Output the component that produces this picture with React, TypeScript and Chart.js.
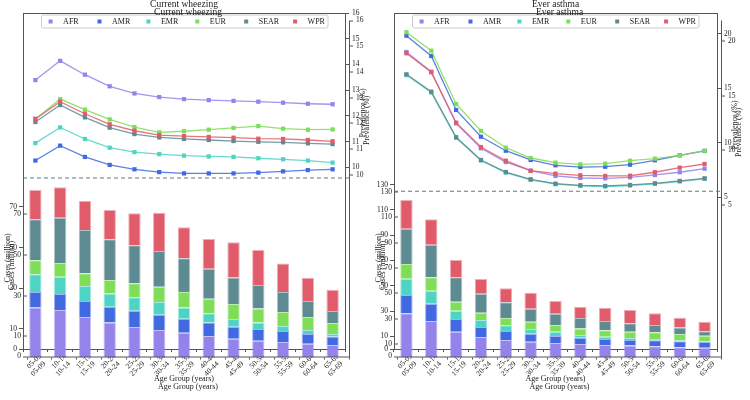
import React, { useEffect, useRef } from 'react';
import { Chart, registerables } from 'chart.js';

Chart.register(...registerables);

const FONT = "'Liberation Serif', 'Times New Roman', serif";
const TEXT = '#222222';
const AXIS = '#555555';
const GHOST_DX = 4;
const GHOST_DY = 7.5;

const AGE_GROUPS = ['05-09', '10-14', '15-19', '20-24', '25-29', '30-34', '35-39', '40-44', '45-49', '50-54', '55-59', '60-64', '65-69'];
const REGIONS = ['AFR', 'AMR', 'EMR', 'EUR', 'SEAR', 'WPR'];
const COLORS = ['#9483ea', '#4169e1', '#4fd3c4', '#7fdd58', '#5e8a91', '#e05c6b'];

// Current wheezing: prevalence (%)
const WHEEZE_PREV_AFR = [13.39, 14.14, 13.6, 13.15, 12.87, 12.73, 12.65, 12.61, 12.58, 12.55, 12.51, 12.47, 12.45];
const WHEEZE_PREV_AMR = [10.26, 10.84, 10.4, 10.09, 9.92, 9.81, 9.76, 9.76, 9.76, 9.79, 9.84, 9.89, 9.92];
const WHEEZE_PREV_EMR = [10.94, 11.55, 11.1, 10.76, 10.59, 10.51, 10.45, 10.42, 10.4, 10.35, 10.31, 10.26, 10.18];
const WHEEZE_PREV_EUR = [11.88, 12.65, 12.24, 11.86, 11.56, 11.36, 11.4, 11.46, 11.53, 11.6, 11.5, 11.46, 11.47];
const WHEEZE_PREV_SEAR = [11.76, 12.42, 11.94, 11.54, 11.29, 11.16, 11.1, 11.06, 11.02, 10.99, 10.97, 10.93, 10.9];
const WHEEZE_PREV_WPR = [11.88, 12.55, 12.08, 11.67, 11.42, 11.25, 11.21, 11.18, 11.15, 11.11, 11.1, 11.06, 11.01];

// Current wheezing: cases (million)
const WHEEZE_CASES_AFR = [20.4, 19.2, 15.8, 13.1, 10.8, 9.4, 8.0, 6.4, 5.1, 4.1, 3.4, 2.6, 2.0];
const WHEEZE_CASES_AMR = [7.7, 7.9, 7.9, 7.7, 8.1, 7.5, 6.9, 6.6, 5.9, 5.8, 5.5, 4.8, 4.1];
const WHEEZE_CASES_EMR = [8.7, 8.5, 7.3, 6.6, 6.6, 6.3, 5.5, 4.6, 3.8, 3.1, 2.4, 2.0, 1.3];
const WHEEZE_CASES_EUR = [6.9, 6.8, 6.3, 6.6, 6.9, 7.5, 7.7, 7.2, 7.4, 6.9, 6.9, 6.4, 5.4];
const WHEEZE_CASES_SEAR = [20.2, 22.3, 21.3, 20.1, 18.7, 17.6, 16.6, 14.8, 13.1, 11.6, 9.9, 7.9, 5.9];
const WHEEZE_CASES_WPR = [14.5, 15.0, 14.3, 14.4, 15.8, 18.9, 15.3, 14.6, 17.3, 17.3, 14.1, 11.4, 10.5];

// Ever asthma: prevalence (%)
const ASTHMA_PREV_AFR = [18.34, 16.53, 11.78, 9.48, 8.22, 7.42, 6.94, 6.75, 6.72, 6.81, 7.03, 7.28, 7.61];
const ASTHMA_PREV_AMR = [19.84, 17.98, 13.01, 10.55, 9.26, 8.41, 7.92, 7.76, 7.79, 7.98, 8.38, 8.84, 9.24];
const ASTHMA_PREV_EMR = [16.22, 14.62, 10.45, 8.36, 7.25, 6.58, 6.18, 6.03, 5.97, 6.06, 6.21, 6.43, 6.67];
const ASTHMA_PREV_EUR = [20.16, 18.46, 13.56, 11.08, 9.54, 8.59, 8.16, 8.01, 8.07, 8.34, 8.53, 8.84, 9.26];
const ASTHMA_PREV_SEAR = [16.29, 14.69, 10.5, 8.41, 7.3, 6.63, 6.23, 6.08, 6.02, 6.11, 6.26, 6.48, 6.72];
const ASTHMA_PREV_WPR = [18.22, 16.48, 11.84, 9.6, 8.34, 7.42, 7.15, 7.0, 6.94, 6.96, 7.28, 7.7, 8.04];

// Ever asthma: cases (million)
const ASTHMA_CASES_AFR = [28.2, 22.1, 13.7, 9.5, 7.1, 5.8, 4.7, 4.0, 3.2, 2.8, 2.2, 1.3, 1.0];
const ASTHMA_CASES_AMR = [14.5, 13.7, 10.0, 7.9, 7.1, 6.3, 5.6, 4.9, 4.7, 4.3, 4.7, 4.8, 4.5];
const ASTHMA_CASES_EMR = [12.8, 10.3, 6.6, 5.5, 4.5, 3.7, 3.4, 2.2, 1.8, 1.6, 1.0, 0.8, 0.6];
const ASTHMA_CASES_EUR = [11.6, 10.6, 7.1, 5.8, 5.8, 5.8, 5.3, 5.2, 5.1, 5.0, 5.3, 5.0, 4.4];
const ASTHMA_CASES_SEAR = [27.9, 25.8, 19.3, 15.0, 12.4, 10.3, 8.9, 8.2, 7.3, 6.6, 5.8, 5.0, 3.5];
const ASTHMA_CASES_WPR = [22.7, 20.0, 13.7, 11.6, 11.1, 12.6, 10.0, 8.9, 10.5, 10.5, 9.2, 7.8, 7.6];

// Axis ranges and tick labels
const WHEEZE_CASE_TICKS = [0, 10, 30, 50, 70];
const WHEEZE_PREV_TICKS = [10, 11, 12, 13, 14, 15, 16];
const ASTHMA_CASE_TICKS = [0, 10, 30, 50, 70, 90, 110, 130];
const ASTHMA_PREV_TICKS = [5, 10, 15, 20];

type PanelCfg = {
  title: string;
  prev: number[][];
  cases: number[][];
  caseMax: number;
  caseTicks: number[];
  afrBase: number;
  prevMin: number;
  prevMax: number;
  prevTicks: number[];
  split: number;
  left: number;
  width: number;
  rightAxisWidth: number;
  casesTitleY: number;
  prevTitleY: number;
};

const WHEEZE: PanelCfg = {
  title: 'Current wheezing',
  prev: [WHEEZE_PREV_AFR, WHEEZE_PREV_AMR, WHEEZE_PREV_EMR, WHEEZE_PREV_EUR, WHEEZE_PREV_SEAR, WHEEZE_PREV_WPR],
  cases: [WHEEZE_CASES_AFR, WHEEZE_CASES_AMR, WHEEZE_CASES_EMR, WHEEZE_CASES_EUR, WHEEZE_CASES_SEAR, WHEEZE_CASES_WPR],
  caseMax: 165.6,
  caseTicks: WHEEZE_CASE_TICKS,
  afrBase: -3.9,
  prevMin: 2.93,
  prevMax: 16,
  prevTicks: WHEEZE_PREV_TICKS,
  split: 9.58,
  left: 0,
  width: 371,
  rightAxisWidth: 26,
  casesTitleY: 258,
  prevTitleY: 113,
};

const ASTHMA: PanelCfg = {
  title: 'Ever asthma',
  prev: [ASTHMA_PREV_AFR, ASTHMA_PREV_AMR, ASTHMA_PREV_EMR, ASTHMA_PREV_EUR, ASTHMA_PREV_SEAR, ASTHMA_PREV_WPR],
  cases: [ASTHMA_CASES_AFR, ASTHMA_CASES_AMR, ASTHMA_CASES_EMR, ASTHMA_CASES_EUR, ASTHMA_CASES_SEAR, ASTHMA_CASES_WPR],
  caseMax: 265.6,
  caseTicks: ASTHMA_CASE_TICKS,
  afrBase: -6.3,
  prevMin: -8.98,
  prevMax: 21.93,
  prevTicks: ASTHMA_PREV_TICKS,
  split: 5.53,
  left: 371,
  width: 379,
  rightAxisWidth: 33,
  casesTitleY: 258,
  prevTitleY: 125,
};

function rgba(hex: string, a: number) {
  const n = parseInt(hex.slice(1), 16);
  return `rgba(${(n >> 16) & 255},${(n >> 8) & 255},${n & 255},${a})`;
}

function drawLegend(ctx: CanvasRenderingContext2D, ca: any) {
  const x0 = ca.left + 18.5;
  const x1 = ca.left + 305;
  const y0 = ca.top + 2;
  const y1 = ca.top + 15;
  ctx.save();
  ctx.beginPath();
  const r = 2;
  ctx.moveTo(x0 + r, y0);
  ctx.lineTo(x1 - r, y0);
  ctx.quadraticCurveTo(x1, y0, x1, y0 + r);
  ctx.lineTo(x1, y1 - r);
  ctx.quadraticCurveTo(x1, y1, x1 - r, y1);
  ctx.lineTo(x0 + r, y1);
  ctx.quadraticCurveTo(x0, y1, x0, y1 - r);
  ctx.lineTo(x0, y0 + r);
  ctx.quadraticCurveTo(x0, y0, x0 + r, y0);
  ctx.closePath();
  ctx.fillStyle = 'rgba(255,255,255,0.85)';
  ctx.fill();
  ctx.strokeStyle = '#cccccc';
  ctx.lineWidth = 1;
  ctx.stroke();
  ctx.font = `8px ${FONT}`;
  ctx.textBaseline = 'middle';
  ctx.textAlign = 'left';
  const my = (y0 + y1) / 2;
  REGIONS.forEach((name, i) => {
    const mx = ca.left + 27.6 + i * 48.9;
    ctx.fillStyle = COLORS[i];
    ctx.fillRect(mx - 2, my - 2, 4, 4);
    ctx.fillStyle = TEXT;
    ctx.fillText(name, mx + 12.5, my + 0.5);
  });
  ctx.restore();
}

function drawVText(ctx: CanvasRenderingContext2D, text: string, x: number, y: number) {
  ctx.save();
  ctx.translate(x, y);
  ctx.rotate(-Math.PI / 2);
  ctx.font = `8px ${FONT}`;
  ctx.fillStyle = TEXT;
  ctx.textAlign = 'center';
  ctx.textBaseline = 'middle';
  ctx.fillText(text, 0, 0);
  ctx.restore();
}

function makeDecor(cfg: PanelCfg) {
  return {
    id: 'decor',
    afterDatasetsDraw(chart: any) {
      const { ctx, chartArea: ca } = chart;
      const y = chart.scales.y1.getPixelForValue(cfg.split);
      ctx.save();
      ctx.strokeStyle = '#5e7c83';
      ctx.lineWidth = 1.1;
      ctx.setLineDash([4, 3]);
      ctx.beginPath();
      ctx.moveTo(ca.left, y);
      ctx.lineTo(ca.right + 5, y);
      ctx.stroke();
      ctx.restore();
    },
    afterDraw(chart: any) {
      const { ctx, chartArea: ca } = chart;
      ctx.save();
      ctx.strokeStyle = AXIS;
      ctx.lineWidth = 1;
      ctx.beginPath();
      ctx.moveTo(ca.left, ca.top + 0.5);
      ctx.lineTo(ca.right, ca.top + 0.5);
      ctx.stroke();
      ctx.restore();

      drawLegend(ctx, ca);

      for (const [dx, dy] of [[0, 0], [GHOST_DX, GHOST_DY]]) {
        ctx.save();
        ctx.translate(dx, dy);
        drawVText(ctx, 'Cases (million)', ca.left - 15, cfg.casesTitleY);
        drawVText(ctx, 'Prevalence (%)', ca.right + 18, cfg.prevTitleY);
        ctx.restore();
      }

      ctx.save();
      ctx.translate(GHOST_DX, GHOST_DY);
      for (const id of ['x', 'y', 'y1']) {
        const s = chart.scales[id];
        s.drawGrid(ca);
        s.drawLabels(ca);
      }
      chart.scales.x.drawTitle();
      chart.scales.x.drawBorder();
      chart.scales.y1.drawBorder();
      if (chart.titleBlock) chart.titleBlock.draw();
      ctx.restore();
    },
  };
}

function Panel({ cfg }: { cfg: PanelCfg }) {
  const ref = useRef<HTMLCanvasElement>(null);
  useEffect(() => {
    const canvas = ref.current;
    if (!canvas) return;
    const tickFont = { family: FONT, size: 7.5 };
    const lineSets = REGIONS.map((name, i) => ({
      type: 'line' as const,
      label: name,
      data: cfg.prev[i],
      yAxisID: 'y1',
      borderColor: rgba(COLORS[i], 0.85),
      backgroundColor: COLORS[i],
      borderWidth: 1.3,
      pointStyle: 'rect' as const,
      pointRadius: 3,
      pointBorderWidth: 0,
      pointBackgroundColor: COLORS[i],
      tension: 0,
      order: -i,
    }));
    const barSets = REGIONS.map((name, i) => ({
      type: 'bar' as const,
      label: name,
      data: cfg.cases[i],
      yAxisID: 'y',
      stack: 'cases',
      backgroundColor: COLORS[i],
      borderColor: rgba(COLORS[i], 0.5),
      borderWidth: 1,
      barPercentage: 0.5,
      categoryPercentage: 1,
      order: 1,
      ...(i === 0 ? { base: cfg.afrBase, clip: false } : {}),
    }));

    const chart = new Chart(canvas, {
      type: 'bar',
      data: { labels: AGE_GROUPS, datasets: [...lineSets, ...barSets] as any },
      options: {
        responsive: false,
        animation: false,
        layout: { padding: 0 },
        plugins: {
          legend: { display: false },
          tooltip: { enabled: false },
          title: {
            display: true,
            text: cfg.title,
            fullSize: false,
            color: TEXT,
            font: { family: FONT, size: 9.5, weight: 'normal', lineHeight: 1 },
            padding: { top: 0, bottom: 3.5 },
          },
        },
        scales: {
          x: {
            stacked: true,
            offset: true,
            grid: { display: true, drawOnChartArea: false, drawTicks: true, tickLength: 3, color: AXIS },
            border: { display: true, color: AXIS, width: 1 },
            ticks: {
              autoSkip: false,
              minRotation: 45,
              maxRotation: 45,
              padding: 0,
              labelOffset: 5,
              font: tickFont,
              color: TEXT,
            },
            title: {
              display: true,
              text: 'Age Group (years)',
              color: TEXT,
              font: { family: FONT, size: 8 },
              padding: { top: 0, bottom: 16 },
            },
            afterFit: (s: any) => {
              s.height = 51;
            },
          },
          y: {
            position: 'left',
            stacked: true,
            min: 0,
            max: cfg.caseMax,
            grid: { display: true, drawOnChartArea: false, drawTicks: true, tickLength: 4, color: AXIS },
            border: { display: true, color: AXIS, width: 1 },
            ticks: { padding: 2, font: tickFont, color: TEXT },
            afterBuildTicks: (s: any) => {
              s.ticks = cfg.caseTicks.map((v) => ({ value: v }));
            },
            afterFit: (s: any) => {
              s.width = 23;
            },
          },
          y1: {
            position: 'right',
            min: cfg.prevMin,
            max: cfg.prevMax,
            grid: { display: true, drawOnChartArea: false, drawTicks: true, tickLength: 4, color: AXIS },
            border: { display: true, color: AXIS, width: 1 },
            ticks: { padding: 3, font: tickFont, color: TEXT },
            afterBuildTicks: (s: any) => {
              s.ticks = cfg.prevTicks.map((v) => ({ value: v }));
            },
            afterFit: (s: any) => {
              s.width = cfg.rightAxisWidth;
            },
          },
        },
      } as any,
      plugins: [makeDecor(cfg) as any],
    });
    return () => chart.destroy();
  }, [cfg]);
  return (
    <canvas
      ref={ref}
      width={cfg.width}
      height={400}
      style={{ position: 'absolute', left: cfg.left, top: 0, width: cfg.width, height: 400 }}
    />
  );
}

export default function App() {
  return (
    <div style={{ position: 'absolute', left: 0, top: 0, width: 750, height: 400, background: '#ffffff', overflow: 'hidden' }}>
      <Panel cfg={WHEEZE} />
      <Panel cfg={ASTHMA} />
    </div>
  );
}
